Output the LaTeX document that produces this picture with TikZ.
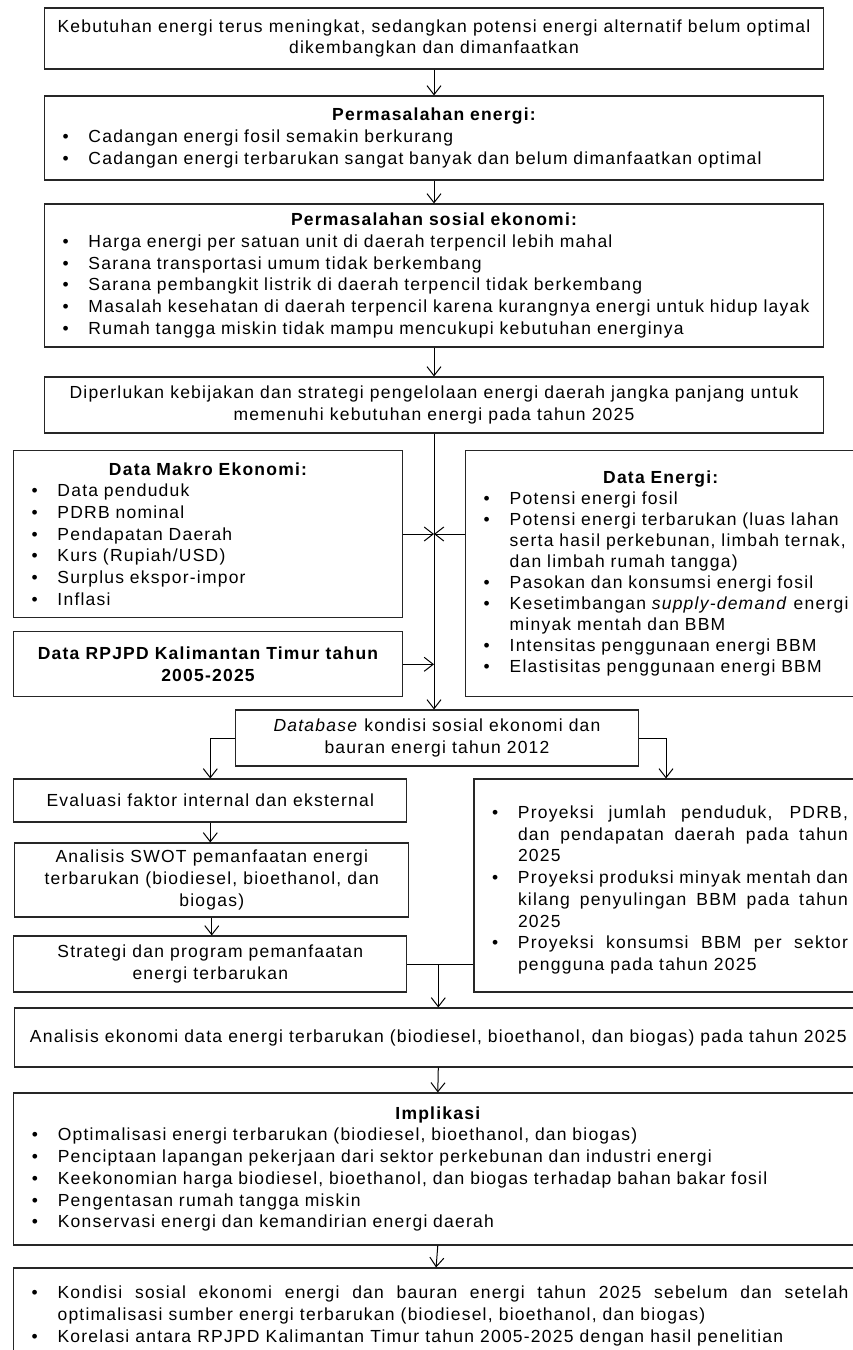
\documentclass[tikz,border=0pt]{standalone}
\usepackage{fontspec}
\setmainfont{Liberation Sans}[LetterSpace=7]
\usetikzlibrary{arrows.meta}

\newcommand{\bul}[1]{\par\hangindent=26pt\hangafter=1\noindent\makebox[26pt][l]{\textbullet}#1\par}

\tikzset{
  kotak/.style={draw=black!85, line width=1.1pt, inner xsep=10pt, inner ysep=0pt,
    font={\fontsize{17.5}{21.7}\selectfont}},
  panah/.style={line width=1pt, -{Straight Barb[length=9pt,width=14pt,line width=1pt]}},
}

\begin{document}
\begin{tikzpicture}[x=1pt,y=-1pt]
	\useasboundingbox (0,0) rectangle (853,1350);
	\clip (0,0) rectangle (853,1350);

	% bagian atas
	\node[kotak, align=center, minimum width=779pt, minimum height=61pt] (kebutuhan) at (434,38.5)
		{Kebutuhan energi terus meningkat, sedangkan potensi energi alternatif belum optimal\\ dikembangkan dan dimanfaatkan};
	\node[kotak, text width=759pt, minimum height=84pt] (masalahenergi) at (434,138)
		{\raggedright\leftskip=8pt
		{\centering\bfseries Permasalahan energi:\par}
		\bul{Cadangan energi fosil semakin berkurang}
		\bul{Cadangan energi terbarukan sangat banyak dan belum dimanfaatkan optimal}};
	\node[kotak, text width=759pt, minimum height=143pt] (sosek) at (434,275.5)
		{\raggedright\leftskip=8pt
		{\centering\bfseries Permasalahan sosial ekonomi:\par}
		\bul{Harga energi per satuan unit di daerah terpencil lebih mahal}
		\bul{Sarana transportasi umum tidak berkembang}
		\bul{Sarana pembangkit listrik di daerah terpencil tidak berkembang}
		\bul{Masalah kesehatan di daerah terpencil karena kurangnya energi untuk hidup layak}
		\bul{Rumah tangga miskin tidak mampu mencukupi kebutuhan energinya}};
	\node[kotak, align=center, minimum width=779pt, minimum height=56pt] (kebijakan) at (434,405)
		{Diperlukan kebijakan dan strategi pengelolaan energi daerah jangka panjang untuk\\ memenuhi kebutuhan energi pada tahun 2025};

	% data masukan
	\node[kotak, text width=369pt, minimum height=167pt] (makro) at (208,534)
		{\raggedright\leftskip=8pt
		{\centering\bfseries Data Makro Ekonomi:\par}
		\bul{Data penduduk}
		\bul{PDRB nominal}
		\bul{Pendapatan Daerah}
		\bul{Kurs (Rupiah/USD)}
		\bul{Surplus ekspor-impor}
		\bul{Inflasi}};
	\node[kotak, align=center, minimum width=389pt, minimum height=65pt, font={\fontsize{17.5}{21.7}\selectfont\bfseries}] (rpjpd) at (208,664.3)
		{Data RPJPD Kalimantan Timur tahun\\ 2005-2025};
	\node[kotak, text width=382pt, minimum height=246pt, font={\fontsize{17.5}{21}\selectfont}] (dataenergi) at (666.7,573.7)
		{\raggedright\leftskip=8pt
		{\centering\hspace*{-12pt}\bfseries Data Energi:\par}
		\bul{Potensi energi fosil}
		\bul{Potensi energi terbarukan (luas lahan\newline serta hasil perkebunan, limbah ternak,\newline dan limbah rumah tangga)}
		\bul{Pasokan dan konsumsi energi fosil}
		\bul{Kesetimbangan \textit{supply-demand} energi\newline minyak mentah dan BBM}
		\bul{Intensitas penggunaan energi BBM}
		\bul{Elastisitas penggunaan energi BBM}};

	\node[kotak, align=center, minimum width=403pt, minimum height=56pt] (database) at (437,738)
		{\textit{Database} kondisi sosial ekonomi dan\\ bauran energi tahun 2012};

	% cabang kiri
	\node[kotak, align=center, minimum width=393pt, minimum height=43pt] (evaluasi) at (210.3,800.5)
		{Evaluasi faktor internal dan eksternal};
	\node[kotak, align=center, minimum width=394pt, minimum height=74pt] (swot) at (211.8,880)
		{Analisis SWOT pemanfaatan energi\\ terbarukan (biodiesel, bioethanol, dan\\ biogas)};
	\node[kotak, align=center, minimum width=393pt, minimum height=56pt] (strategi) at (210.3,964)
		{Strategi dan program pemanfaatan\\ energi terbarukan};

	% cabang kanan
	\node[kotak, align=justify, text width=364pt, minimum height=213pt] (proyeksi) at (666,885.5)
		{\leftskip=8pt
		\bul{Proyeksi jumlah penduduk, PDRB,\linebreak dan pendapatan daerah pada tahun\linebreak 2025}
		\bul{Proyeksi produksi minyak mentah dan\linebreak kilang penyulingan BBM pada tahun\linebreak 2025}
		\bul{Proyeksi konsumsi BBM per sektor\linebreak pengguna pada tahun 2025}};

	% bagian bawah
	\node[kotak, align=center, minimum width=847pt, minimum height=59pt] (analisis) at (438.3,1037.5)
		{Analisis ekonomi data energi terbarukan (biodiesel, bioethanol, dan biogas) pada tahun 2025};
	\node[kotak, text width=828pt, minimum height=152pt] (implikasi) at (437.8,1169)
		{\raggedright\leftskip=8pt
		{\centering\bfseries Implikasi\par}
		\bul{Optimalisasi energi terbarukan (biodiesel, bioethanol, dan biogas)}
		\bul{Penciptaan lapangan pekerjaan dari sektor perkebunan dan industri energi}
		\bul{Keekonomian harga biodiesel, bioethanol, dan biogas terhadap bahan bakar fosil}
		\bul{Pengentasan rumah tangga miskin}
		\bul{Konservasi energi dan kemandirian energi daerah}};
	\node[kotak, align=justify, text width=825pt, minimum height=87pt] (hasil) at (436.1,1311.5)
		{\leftskip=8pt
		\bul{Kondisi sosial ekonomi energi dan bauran energi tahun 2025 sebelum dan setelah\linebreak optimalisasi sumber energi terbarukan (biodiesel, bioethanol, dan biogas)}
		\bul{Korelasi antara RPJPD Kalimantan Timur tahun 2005-2025 dengan hasil penelitian}};

	% panah
	\draw[panah] (kebutuhan.south) -- (masalahenergi.north);
	\draw[panah] (masalahenergi.south) -- (sosek.north);
	\draw[panah] (sosek.south) -- (kebijakan.north);
	\draw[panah] (kebijakan.south) -- (kebijakan.south |- database.north);
	\draw[panah] (makro.east) -- (makro.east -| kebijakan.south);
	\draw[panah] (dataenergi.west |- makro.east) -- (makro.east -| kebijakan.south);
	\draw[panah] (rpjpd.east) -- (rpjpd.east -| kebijakan.south);

	\draw[panah] (database.west) -| (evaluasi.north);
	\draw[panah] (database.east) -| (proyeksi.north);
	\draw[panah] (evaluasi.south) -- (evaluasi.south |- swot.north);
	\draw[panah] (swot.south) -- (swot.south |- strategi.north);

	\coordinate (gabung) at (strategi.east -| analisis.north);
	\draw[line width=1pt] (strategi.east) -- (proyeksi.west |- strategi.east);
	\draw[panah] (gabung) -- (analisis.north);
	\draw[panah] (analisis.south) -- (implikasi.north);
	\draw[panah] (implikasi.south) -- (hasil.north);
\end{tikzpicture}
\end{document}
